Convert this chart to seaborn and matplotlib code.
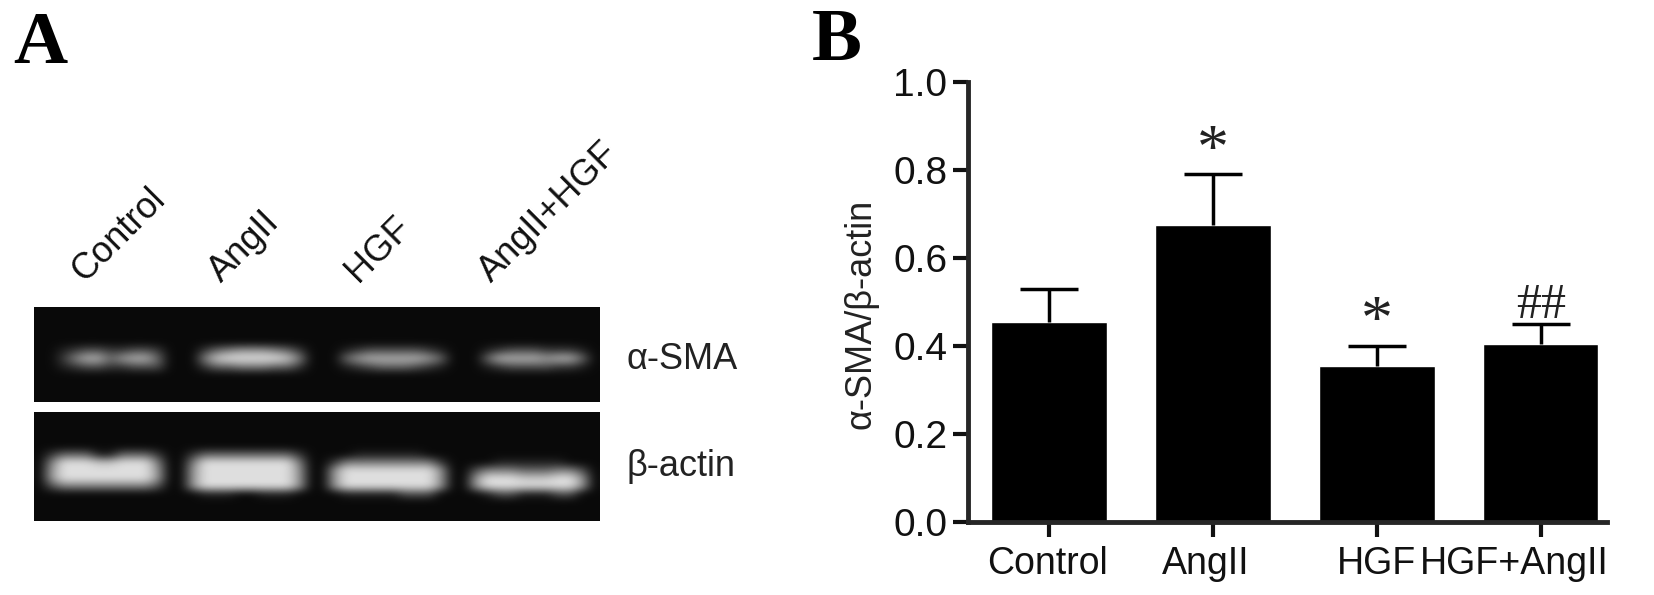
import matplotlib.pyplot as plt
from matplotlib.transforms import ScaledTranslation
import seaborn as sns
import pandas as pd

plt.switch_backend('Agg')
sns.set_style("ticks")
plt.rcParams['font.family'] = ['Liberation Sans', 'DejaVu Sans']
plt.rcParams['text.color'] = '#111111'
plt.rcParams['axes.labelcolor'] = '#111111'
plt.rcParams['xtick.color'] = '#111111'
plt.rcParams['ytick.color'] = '#111111'

# Densitometry bars (panel B)
groups = ['Control', 'AngII', 'HGF', 'HGF+AngII']
ratio = [0.455, 0.675, 0.355, 0.405]
err_top = [0.53, 0.79, 0.40, 0.45]
marks = ['', '*', '*', '##']

# Panel A lane and row labels
lanes = ['Control', 'AngII', 'HGF', 'AngII+HGF']
blots = ['α-SMA', 'β-actin']

# Gel brightness, one digit per cell (0 dark, 9 bright)
sma_gel = [
    '000000000000000000000000000000000000000000000000',
    '000000000000000000000000000000000000000000000000',
    '000000000000000000000000000000000000000000000000',
    '000000000000000000000000000000000000000000000000',
    '000000000000000000000000000000000000000000000000',
    '001233223320002456665420001233333210001233322210',
    '002577467740005899999850004677777640004777767740',
    '001233223330002445554420001234443210001233332210',
    '000000000000000000000000000000000000000000000000',
    '000000000000000000000000000000000000000000000000',
    '000000000000000000000000000000000000000000000000',
    '000000000000000000000000000000000000000000000000',
]
actin_gel = [
    '000000000000000000000000000000000000000000000000',
    '000000000000000000000000000000000000000000000000',
    '000000000000000000000000000000000000000000000000',
    '000000000000000000000000000000000000000000000000',
    '000000000000000000000000000000000000000000000000',
    '024441144420024444444420000111111000000000000000',
    '059998899950059999999950025555555520000111111000',
    '069999999960069999999960069999999960035554445530',
    '069999999960069999999960069999999960069998889960',
    '035555555530069999999960069999999960069999999960',
    '000000000000001110011100001111133300001331113300',
    '000000000000000000000000000000000000000000000000',
    '000000000000000000000000000000000000000000000000',
    '000000000000000000000000000000000000000000000000',
]


def gel_array(rows):
    return [[int(c) for c in r] for r in rows]


W, H = 1654, 595


def px_axes(fig, left, top, right, bottom):
    return fig.add_axes([left / W, 1 - bottom / H, (right - left) / W, (bottom - top) / H])


fig = plt.figure(figsize=(W / 100, H / 100), dpi=100)

# Panel A blots
for rows, box in [(sma_gel, (34, 307, 600, 402)), (actin_gel, (34, 412, 600, 521))]:
    ax_gel = px_axes(fig, *box)
    ax_gel.imshow(gel_array(rows), cmap='gray', vmin=-0.4, vmax=10.4, aspect='auto',
                  interpolation='bicubic')
    ax_gel.axis('off')

for name, x in zip(lanes, [0.072, 0.148, 0.229, 0.332]):
    fig.text(x, 0.515, name, rotation=45, ha='center', va='bottom', fontsize=26)
for name, y in zip(blots, [0.395, 0.216]):
    fig.text(0.379, y, name, ha='left', va='center', fontsize=26, color='#222222')

fig.text(0.008, 0.925, 'A', fontsize=54, fontweight='bold', family='Liberation Serif',
         va='center', color='black')
fig.text(0.491, 0.93, 'B', fontsize=54, fontweight='bold', family='Liberation Serif',
         va='center', color='black')

# Panel B bars
ax = px_axes(fig, 968, 82, 1607, 522)
df = pd.DataFrame({'group': groups, 'ratio': ratio})
sns.barplot(data=df, x='group', y='ratio', color='black', saturation=1, width=0.706, ax=ax)
upper = [t - r for t, r in zip(err_top, ratio)]
err = ax.errorbar(range(len(groups)), ratio, yerr=[[0] * len(upper), upper], fmt='none', ecolor='black',
                  elinewidth=2.5, capsize=21, capthick=2.5)
err[1][0].set_visible(False)
for i, m in enumerate(marks):
    if m:
        ax.text(i, err_top[i] + (-0.012 if m == '##' else -0.017), m, ha='center', va='bottom',
                fontsize=36 if m == '##' else 46, color='#222222',
                family='Liberation Serif')

ax.set_xlim(-0.495, 3.405)
ax.set_ylim(0, 1.0)
ax.set_yticks([0.0, 0.2, 0.4, 0.6, 0.8, 1.0])
ax.set_xlabel('')
ax.set_ylabel('α-SMA/β-actin', fontsize=26, color='#222222')
ax.yaxis.set_label_coords(-0.14, 0.472)
ax.tick_params(axis='y', labelsize=28, width=3, length=11, pad=4)
ax.tick_params(axis='x', labelsize=27, width=3, length=11, pad=6)
sns.despine(ax=ax)
for s in ['left', 'bottom']:
    ax.spines[s].set_linewidth(3.5)

# the last labels sit left of their ticks in the original
label_shift = [-1, -5, 0, -19]
for lab, dx in zip(ax.get_xticklabels(), label_shift):
    lab.set_transform(lab.get_transform() + ScaledTranslation(dx / 72, 0, fig.dpi_scale_trans))

fig.savefig('out.png', dpi=100)
plt.close(fig)
